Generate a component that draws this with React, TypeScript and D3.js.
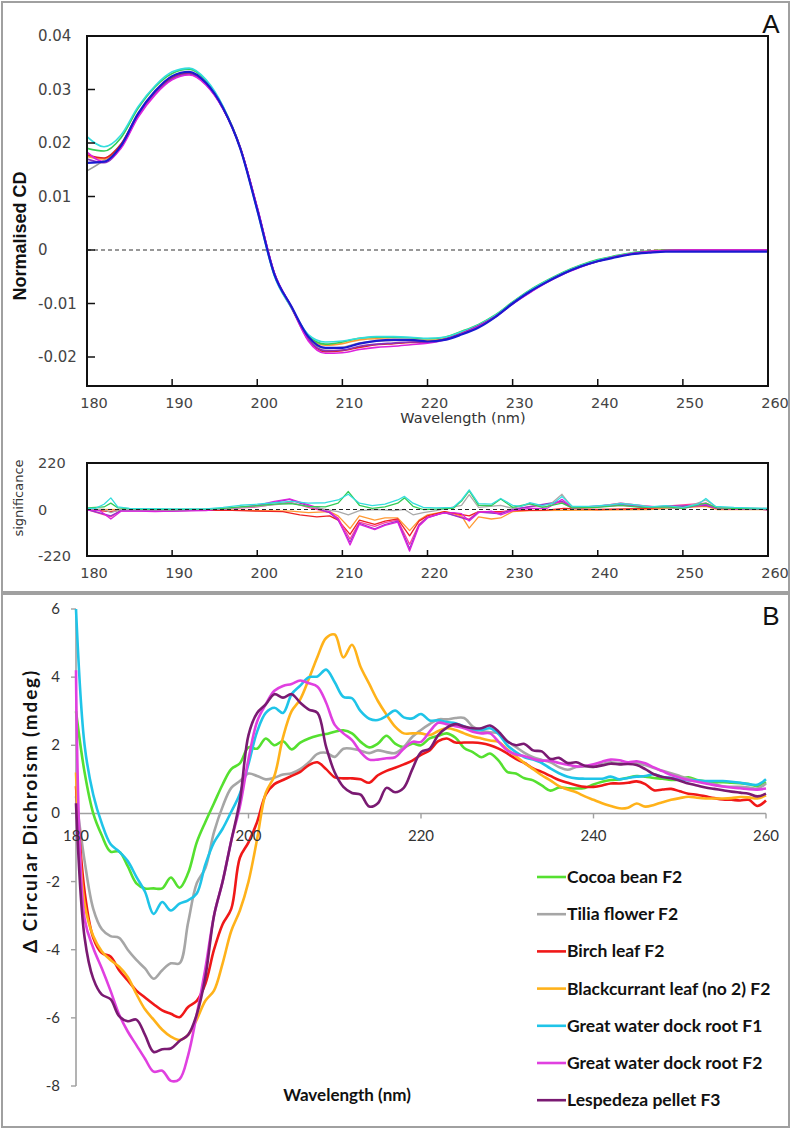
import React, { useRef, useEffect } from "react";
import * as d3 from "d3";

const W = 795;
const H = 1130;

// ---------- Panel A: normalised CD spectra (2 nm steps) ----------
const cdWavelengths = [180, 182, 184, 186, 188, 190, 192, 194, 196, 198, 200, 202, 204, 206, 208, 210, 212, 214, 216, 218, 220,
  222, 224, 226, 228, 230, 232, 234, 236, 238, 240, 242, 244, 246, 248, 250, 252, 254, 256, 258, 260];

const cdCyan = [0.0212, 0.0193, 0.0215, 0.0268, 0.0307, 0.0333, 0.034, 0.0318, 0.0268, 0.019, 0.0073, -0.0048, -0.0108, -0.0158, -0.0172, -0.017, -0.0165, -0.0162, -0.0162, -0.0163, -0.0165,
  -0.0163, -0.0153, -0.014, -0.0122, -0.0098, -0.0076, -0.0058, -0.0042, -0.0029, -0.0019, -0.0012, -0.0006, -0.0003, -0.0001, 0, 0, 0, 0, 0, 0];
const cdGreen = [0.019, 0.0185, 0.021, 0.0265, 0.0305, 0.033, 0.0338, 0.0316, 0.0267, 0.0192, 0.0076, -0.0046, -0.0107, -0.016, -0.0176, -0.0172, -0.0165, -0.0163, -0.0163, -0.0164, -0.0166,
  -0.0163, -0.0152, -0.0139, -0.0121, -0.0097, -0.0075, -0.0057, -0.0041, -0.0028, -0.0018, -0.0011, -0.0005, -0.0002, 0, 0, 0, 0, 0, 0, 0];
const cdGray = [0.0148, 0.0168, 0.0198, 0.0255, 0.0296, 0.0323, 0.0331, 0.031, 0.0264, 0.019, 0.0076, -0.0046, -0.0108, -0.0166, -0.0184, -0.0182, -0.0174, -0.017, -0.0169, -0.0169, -0.0171,
  -0.0167, -0.0157, -0.0143, -0.0124, -0.0099, -0.0077, -0.0059, -0.0043, -0.003, -0.002, -0.0013, -0.0007, -0.0003, -0.0001, 0, 0, 0, 0, 0, 0];
const cdOrange = [0.0175, 0.017, 0.0195, 0.0252, 0.0294, 0.0322, 0.033, 0.031, 0.0265, 0.0192, 0.0078, -0.0044, -0.0107, -0.0163, -0.0178, -0.0175, -0.0168, -0.0166, -0.0167, -0.0168, -0.0169,
  -0.0166, -0.0155, -0.0141, -0.0123, -0.0099, -0.0077, -0.0059, -0.0043, -0.003, -0.002, -0.0012, -0.0006, -0.0002, 0, 0, 0, 0, 0, 0, 0];
const cdRed = [0.0178, 0.0172, 0.0198, 0.0254, 0.0295, 0.0322, 0.033, 0.031, 0.0264, 0.0191, 0.0078, -0.0043, -0.0106, -0.0168, -0.019, -0.0188, -0.0182, -0.0177, -0.0175, -0.0173, -0.0172,
  -0.0167, -0.0156, -0.0142, -0.0124, -0.01, -0.0079, -0.006, -0.0044, -0.0031, -0.0021, -0.0013, -0.0007, -0.0003, -0.0001, 0, 0, 0, 0, 0, 0];
const cdPurple = [0.017, 0.0163, 0.0192, 0.025, 0.0292, 0.032, 0.0329, 0.0309, 0.0264, 0.0191, 0.0079, -0.0043, -0.0106, -0.0167, -0.0188, -0.0187, -0.018, -0.0176, -0.0174, -0.0172, -0.0172,
  -0.0167, -0.0156, -0.0142, -0.0124, -0.01, -0.0079, -0.006, -0.0044, -0.0031, -0.0021, -0.0013, -0.0007, -0.0003, -0.0001, 0, 0, 0, 0, 0, 0];
const cdMagenta = [0.0183, 0.0165, 0.019, 0.0248, 0.029, 0.0318, 0.0327, 0.0308, 0.0263, 0.0192, 0.008, -0.0042, -0.0106, -0.017, -0.0193, -0.0192, -0.0186, -0.0182, -0.018, -0.0177, -0.0174,
  -0.0168, -0.0157, -0.0143, -0.0125, -0.0101, -0.008, -0.0061, -0.0045, -0.0032, -0.0021, -0.0013, -0.0007, -0.0003, -0.0001, 0, 0, 0, 0, 0, 0];
const cdBlue = [0.0163, 0.0165, 0.0195, 0.0255, 0.0297, 0.0325, 0.0333, 0.0312, 0.0265, 0.019, 0.0075, -0.0045, -0.0105, -0.0162, -0.0183, -0.0183, -0.0175, -0.017, -0.0168, -0.0168, -0.0171,
  -0.0168, -0.0158, -0.0145, -0.0125, -0.01, -0.0078, -0.006, -0.0044, -0.0031, -0.0021, -0.0014, -0.0008, -0.0005, -0.0003, -0.0003, -0.0003, -0.0003, -0.0003, -0.0003, -0.0003];

const cdSeries = [
  { color: "#9a9a9a", values: cdGray },
  { color: "#ff9933", values: cdOrange },
  { color: "#33cc55", values: cdGreen },
  { color: "#33dddd", values: cdCyan },
  { color: "#e02222", values: cdRed },
  { color: "#8833bb", values: cdPurple },
  { color: "#dd22dd", values: cdMagenta },
  { color: "#1a1ad0", values: cdBlue },
];

const cdTicks = [0.04, 0.03, 0.02, 0.01, 0, -0.01, -0.02];
const cdTickLabels = ["0.04", "0.03", "0.02", "0.01", "0", "-0.01", "-0.02"];
const nmTicks = [180, 190, 200, 210, 220, 230, 240, 250, 260];

// ---------- Panel A lower: significance ([nm, value] pairs) ----------
const sigTicks = [220, 0, -220];
const sigOrange = [[180, 0], [190, -2], [197, -3], [200, -5], [204, -8], [206, -15], [208.5, -10], [209.5, -30], [210.9, -90], [212, -30], [213.8, -50], [215, -40], [216.5, -40], [217.9, -100], [219, -50], [220, -25], [222, -10], [224, -30], [224.9, -88], [226, -35], [227.5, -45], [228.6, -40], [230, -10], [232, -5], [240, -3], [246, 0], [252.7, 15], [254, 0], [260, 0]];
const sigRed = [[180, 0], [182.8, -10], [184, -3], [190, -5], [196, -3], [198, -5], [200, -8], [203, -10], [205, -25], [207, -35], [208.5, -30], [209.5, -50], [210.9, -118], [212, -50], [213.8, -70], [215, -55], [216.5, -45], [217.9, -125], [219, -55], [220, -30], [222, -10], [224.9, -30], [226, -10], [228.6, -10], [230, -5], [234, -3], [236, 5], [240, 0], [246, 5], [248, 10], [252.7, 20], [254, 5], [260, 0]];
const sigPink = [[180, 0], [182.8, -35], [184, -5], [190, -5], [196, 3], [200, 12], [203.8, 35], [206, 10], [208.5, -15], [209.5, -40], [210.9, -140], [212, -60], [213.8, -80], [215, -62], [216.5, -50], [217.9, -165], [219, -70], [220, -35], [222, -15], [224.9, -45], [226, -10], [228.6, -15], [230, 0], [235.8, 35], [237, 5], [242.7, 20], [246, 10], [252.7, 30], [254, 5], [260, 0]];
const sigPurple = [[180, 0], [182.8, -30], [184, -5], [190, -8], [196, 2], [200, 18], [203.8, 48], [205, 30], [207, 5], [208.5, -15], [209.5, -50], [210.9, -155], [212, -65], [213.8, -92], [215, -72], [216.5, -55], [217.9, -185], [219, -75], [220, -38], [222, -15], [224.9, -50], [226, -12], [228.6, -20], [230, 0], [235.8, 40], [237, 8], [242.7, 25], [246, 12], [252.7, 20], [254, 5], [260, 0]];
const sigMagenta = [[180, 0], [181.5, -5], [182.8, -45], [184, -8], [186, -8], [188, -10], [190, -8], [194, -5], [196, 5], [198, 10], [200, 20], [202, 38], [203.8, 50], [205, 35], [207, 10], [208.5, -10], [209.5, -45], [210.9, -168], [212, -70], [213.8, -95], [215, -75], [216.5, -60], [217.9, -197], [219, -80], [220, -40], [221.5, -20], [223, -15], [224, -20], [224.9, -55], [226, -15], [227.5, -8], [228.6, -25], [230, -5], [232, 5], [234, 5], [235.8, 48], [237, 10], [240, 15], [242.7, 30], [245, 20], [247, 12], [250, 5], [252.7, 25], [254, 5], [260, 0]];
const sigGray = [[180, 3], [182, 0], [182.8, -15], [184, 0], [190, -2], [196, 3], [200, 15], [204, 30], [206, 15], [208, 0], [209.5, -10], [210.7, -25], [212, -5], [214, 0], [216, -5], [217.3, 0], [218.3, -25], [219.5, -15], [221, -5], [224, 20], [224.9, 70], [226, 10], [228.6, 20], [230, 5], [232, 25], [234, 10], [235.8, 72], [237, 10], [240, 15], [242.7, 30], [245, 20], [247, 10], [250, 5], [252.7, 45], [254, 10], [260, 5]];
const sigGreen = [[180, 8], [182, 12], [182.8, 30], [183.6, 8], [186, 2], [190, 0], [194, 2], [196, 5], [198, 12], [200, 18], [202, 25], [204, 28], [206, 15], [208, 12], [209.5, 30], [210.7, 85], [212, 20], [213.5, 5], [215, 12], [216.5, 30], [217.3, 55], [218.3, 15], [219.5, 0], [221, 2], [223, 5], [224, 40], [224.9, 88], [226, 20], [227.5, 18], [228.6, 50], [230, 10], [232, 28], [233.5, 10], [235.8, 30], [237, 8], [240, 10], [242.7, 20], [245, 10], [248, 12], [250, 5], [252.7, 30], [254, 8], [256, 5], [260, 2]];
const sigCyan = [[180, 5], [181, 5], [182, 25], [182.8, 55], [183.6, 12], [185, 5], [190, 3], [194, 3], [196, 10], [198, 20], [200, 25], [202, 32], [204, 38], [206, 30], [208, 32], [209.5, 45], [210.7, 72], [212, 30], [213.5, 18], [215, 25], [216.5, 45], [217.3, 62], [218.3, 30], [219.5, 10], [221, 8], [223, 10], [224, 45], [224.9, 93], [226, 28], [227.5, 25], [228.6, 52], [230, 20], [231, 15], [232, 32], [233.5, 18], [234.8, 30], [235.8, 62], [237, 15], [239, 15], [241, 20], [242.7, 28], [244.5, 22], [246, 12], [248, 18], [250, 10], [251.8, 25], [252.7, 52], [253.8, 15], [256, 10], [260, 5]];

const sigSeries = [
  { color: "#ff9933", values: sigOrange },
  { color: "#ee2222", values: sigRed },
  { color: "#ff3fa0", values: sigPink },
  { color: "#9933cc", values: sigPurple },
  { color: "#dd22dd", values: sigMagenta },
  { color: "#aaaaaa", values: sigGray },
  { color: "#33cc55", values: sigGreen },
  { color: "#33dddd", values: sigCyan },
];

// ---------- Panel B: delta circular dichroism (1 nm steps, 180-260) ----------
const dcWavelengths = d3.range(180, 261);

const cocoaBean = [3.0, 1.2, 0.0, -0.65, -1.12, -1.12, -1.55, -2.05, -2.2, -2.2,
  -2.2, -1.88, -2.18, -1.75, -0.85, -0.25, 0.3, 0.85, 1.3, 1.47,
  1.94, 1.9, 2.2, 2.0, 2.12, 1.88, 2.08, 2.2, 2.28, 2.33,
  2.4, 2.44, 2.35, 2.1, 1.94, 2.05, 2.28, 2.05, 1.95, 2.05,
  2.0, 2.2, 2.28, 2.35, 2.22, 1.92, 1.8, 1.65, 1.76, 1.55,
  1.22, 1.17, 1.03, 0.97, 0.82, 0.67, 0.76, 0.74, 0.73, 0.75,
  0.85, 0.93, 0.98, 1.0, 1.05, 1.1, 1.08, 1.04, 1.02, 0.98,
  1.0, 1.06, 0.98, 0.94, 0.91, 0.92, 0.9, 0.89, 0.86, 0.8,
  0.92];
const tiliaFlower = [0.5, -1.4, -2.8, -3.4, -3.6, -3.65, -4.0, -4.3, -4.55, -4.85,
  -4.6, -4.4, -4.4, -3.2, -2.05, -1.6, -0.55, 0.2, 0.75, 0.95,
  1.17, 1.1, 1.0, 1.05, 1.14, 1.18, 1.3, 1.5, 1.75, 1.78,
  1.66, 1.9, 1.9, 1.84, 1.77, 1.85, 1.8, 1.77, 1.95, 2.25,
  2.45, 2.62, 2.76, 2.76, 2.8, 2.8, 2.55, 2.43, 2.38, 2.35,
  2.12, 1.95, 1.78, 1.65, 1.57, 1.5, 1.36, 1.28, 1.36, 1.38,
  1.36, 1.45, 1.5, 1.47, 1.49, 1.47, 1.42, 1.33, 1.25, 1.18,
  1.1, 1.02, 0.96, 0.9, 0.85, 0.8, 0.78, 0.78, 0.76, 0.73,
  0.88];
const birchLeaf = [0.8, -2.3, -3.65, -4.1, -4.2, -4.6, -4.9, -5.2, -5.4, -5.6,
  -5.78, -5.88, -5.98, -5.68, -5.5, -5.0, -4.0, -3.25, -2.8, -1.3,
  -0.85, -0.25, 0.55, 0.86, 0.98, 1.1, 1.22, 1.42, 1.5, 1.3,
  1.06, 1.03, 1.03, 1.0, 0.9, 1.12, 1.25, 1.34, 1.44, 1.55,
  1.72, 1.85, 2.12, 2.2, 2.08, 2.08, 2.08, 2.06, 2.0, 1.9,
  1.76, 1.6, 1.48, 1.32, 1.22, 1.1, 0.98, 0.9, 0.83, 0.78,
  0.78, 0.82, 0.88, 0.88, 0.9, 0.94, 0.86, 0.68, 0.7, 0.72,
  0.65, 0.58, 0.55, 0.5, 0.45, 0.41, 0.4, 0.38, 0.4, 0.22,
  0.38];
const blackcurrantLeaf = [1.2, -2.65, -3.6, -4.05, -4.3, -4.5, -4.8, -5.3, -5.75, -6.05,
  -6.35, -6.55, -6.65, -6.5, -6.05, -5.5, -5.2, -4.4, -3.45, -2.85,
  -2.0, -0.75, 0.6, 1.1, 2.23, 3.0, 3.35, 3.95, 4.6, 5.15,
  5.25, 4.58, 4.95, 4.3, 3.8, 3.3, 2.9, 2.55, 2.35, 2.35,
  2.35, 2.3, 2.42, 2.5, 2.45, 2.35, 2.26, 2.2, 2.14, 2.1,
  1.88, 1.68, 1.48, 1.3, 1.12, 0.97, 0.8, 0.7, 0.62, 0.5,
  0.4, 0.3, 0.22, 0.15, 0.17, 0.29, 0.2, 0.25, 0.33, 0.4,
  0.45, 0.49, 0.46, 0.44, 0.44, 0.44, 0.45, 0.48, 0.47, 0.44,
  0.53];
const dockRootF1 = [6.0, 2.0, 0.55, -0.3, -0.9, -1.12, -1.4, -1.86, -2.3, -2.95,
  -2.6, -2.85, -2.65, -2.55, -2.35, -1.5, -0.85, -0.45, 0.05, 0.58,
  1.45, 2.4, 2.95, 3.1, 2.95, 3.5, 3.75, 4.0, 4.02, 4.22,
  3.85, 3.42, 3.38, 3.0, 2.78, 2.74, 2.86, 3.02, 2.82, 2.79,
  2.92, 2.73, 2.73, 2.68, 2.65, 2.55, 2.44, 2.45, 2.5, 2.33,
  2.0, 1.8, 1.65, 1.58, 1.48, 1.32, 1.18, 1.08, 1.03, 1.02,
  1.02, 1.02, 1.08, 1.0, 1.04, 1.08, 1.1, 1.15, 1.07, 1.04,
  1.0, 0.97, 0.97, 0.95, 0.95, 0.95, 0.93, 0.9, 0.86, 0.84,
  1.0];
const dockRootF2 = [4.2, -3.1, -3.95, -4.55, -5.2, -5.9, -6.4, -6.8, -7.2, -7.58,
  -7.55, -7.85, -7.8, -7.1, -5.9, -4.55, -3.0, -2.0, -0.8, 0.2,
  1.6, 2.7, 3.2, 3.6, 3.74, 3.8, 3.9, 3.82, 3.72, 3.25,
  2.6, 2.35, 2.15, 1.8, 1.58, 1.58, 1.62, 1.65, 1.9, 2.1,
  2.1, 2.4, 2.66, 2.62, 2.56, 2.5, 2.4, 2.35, 2.35, 2.1,
  1.85, 1.73, 1.68, 1.6, 1.55, 1.55, 1.48, 1.43, 1.38, 1.39,
  1.44, 1.52, 1.58, 1.56, 1.5, 1.53, 1.47, 1.35, 1.24, 1.13,
  1.05, 0.98, 0.93, 0.88, 0.83, 0.79, 0.76, 0.74, 0.71, 0.7,
  0.73];
const lespedezaPellet = [0.3, -3.65, -4.85, -5.32, -5.45, -5.95, -6.1, -6.05, -6.5, -7.0,
  -6.92, -6.9, -6.68, -6.5, -5.9, -4.8, -3.0, -2.0, -0.8, 0.38,
  2.3, 2.95, 3.2, 3.5, 3.4, 3.5, 3.25, 3.05, 2.95, 1.95,
  1.2, 0.78, 0.6, 0.55, 0.2, 0.3, 0.75, 0.62, 0.75, 1.3,
  1.8, 1.9, 2.3, 2.52, 2.62, 2.55, 2.5, 2.5, 2.58, 2.4,
  2.12, 2.0, 2.04, 1.85, 1.82, 1.6, 1.63, 1.48, 1.5, 1.4,
  1.37, 1.41, 1.46, 1.44, 1.45, 1.42, 1.3, 1.15, 1.07, 1.03,
  0.96, 0.88, 0.82, 0.76, 0.72, 0.68, 0.64, 0.61, 0.58, 0.5,
  0.58];

const dcLabels = ["Cocoa bean F2", "Tilia flower F2", "Birch leaf F2", "Blackcurrant leaf (no 2) F2",
  "Great water dock root F1", "Great water dock root F2", "Lespedeza pellet F3"];
const dcColors = ["#55e030", "#a6a6a6", "#f01818", "#ffb21a", "#1fc4e8", "#e040e0", "#7a1a72"];
const dcValues = [cocoaBean, tiliaFlower, birchLeaf, blackcurrantLeaf, dockRootF1, dockRootF2, lespedezaPellet];

const dcTicks = [6, 4, 2, 0, -2, -4, -6, -8];
const dcNmTicks = [180, 200, 220, 240, 260];

const App = () => {
  const svgRef = useRef<SVGSVGElement | null>(null);

  useEffect(() => {
    document.body.style.margin = "0";
    const svg = d3.select(svgRef.current);
    svg.selectAll("*").remove();

    svg.append("rect").attr("width", W).attr("height", H).attr("fill", "#fff");

    // panel frames
    svg.append("rect").attr("x", 2).attr("y", 2).attr("width", 787).attr("height", 590)
      .attr("fill", "none").attr("stroke", "#a0a0a0").attr("stroke-width", 2);
    svg.append("rect").attr("x", 2).attr("y", 594).attr("width", 787).attr("height", 533)
      .attr("fill", "none").attr("stroke", "#a0a0a0").attr("stroke-width", 2);

    const fontA = "'DejaVu Sans', Verdana, sans-serif";
    const fontB = "Lato, 'Open Sans', sans-serif";

    // ===== Panel A top =====
    const xA = d3.scaleLinear().domain([180, 260]).range([87, 768]);
    const yA = d3.scaleLinear().domain([-0.02542, 0.04]).range([386, 36]);

    svg.append("clipPath").attr("id", "clipA")
      .append("rect").attr("x", 87).attr("y", 36).attr("width", 681).attr("height", 350);

    svg.append("line").attr("x1", 87).attr("x2", 768).attr("y1", yA(0)).attr("y2", yA(0))
      .attr("stroke", "#333").attr("stroke-width", 1.2).attr("stroke-dasharray", "4,3");

    const lineA = d3.line<number>()
      .x((_, i) => xA(cdWavelengths[i]))
      .y(d => yA(d))
      .curve(d3.curveMonotoneX);

    const gA = svg.append("g").attr("clip-path", "url(#clipA)");
    cdSeries.forEach((s, k) => {
      gA.append("path").attr("d", lineA(s.values)).attr("fill", "none")
        .attr("stroke", s.color).attr("stroke-width", k === cdSeries.length - 1 ? 2.2 : 1.6);
    });

    svg.append("rect").attr("x", 87).attr("y", 36).attr("width", 681).attr("height", 350)
      .attr("fill", "none").attr("stroke", "#111").attr("stroke-width", 2);

    cdTicks.forEach((v, i) => {
      svg.append("line").attr("x1", 87).attr("x2", 95).attr("y1", yA(v)).attr("y2", yA(v))
        .attr("stroke", "#111").attr("stroke-width", 1.5);
      svg.append("text").attr("x", 38).attr("y", yA(v) + 5).attr("font-family", fontA)
        .attr("font-size", 15).attr("fill", "#444").text(cdTickLabels[i]);
    });
    nmTicks.forEach(v => {
      svg.append("line").attr("x1", xA(v)).attr("x2", xA(v)).attr("y1", 386).attr("y2", 379)
        .attr("stroke", "#111").attr("stroke-width", 1.5);
      svg.append("text").attr("x", xA(v) + 7).attr("y", 408).attr("text-anchor", "middle")
        .attr("font-family", fontA).attr("font-size", 14.5).attr("fill", "#444").text(v);
    });
    svg.append("text").attr("x", 463).attr("y", 423).attr("text-anchor", "middle")
      .attr("font-family", fontA).attr("font-size", 14.5).attr("fill", "#333").text("Wavelength (nm)");
    svg.append("text").attr("transform", "translate(26,236) rotate(-90)").attr("text-anchor", "middle")
      .attr("font-family", "'Liberation Sans', Arial, sans-serif").attr("font-weight", "bold")
      .attr("font-size", 18).attr("fill", "#111").text("Normalised CD");
    svg.append("text").attr("x", 771).attr("y", 33).attr("text-anchor", "middle")
      .attr("font-family", "'Liberation Sans', Arial, sans-serif").attr("font-size", 26).attr("fill", "#111").text("A");

    // ===== Panel A bottom: significance =====
    const yS = d3.scaleLinear().domain([-220, 220]).range([556, 463]);
    svg.append("clipPath").attr("id", "clipS")
      .append("rect").attr("x", 87).attr("y", 463).attr("width", 681).attr("height", 93);

    const lineS = d3.line<number[]>().x(d => xA(d[0])).y(d => yS(d[1]));
    const gS = svg.append("g").attr("clip-path", "url(#clipS)");
    sigSeries.forEach(s => {
      gS.append("path").attr("d", lineS(s.values)).attr("fill", "none")
        .attr("stroke", s.color).attr("stroke-width", 1.3).attr("stroke-linejoin", "round");
    });
    svg.append("line").attr("x1", 87).attr("x2", 768).attr("y1", yS(0)).attr("y2", yS(0))
      .attr("stroke", "#222").attr("stroke-width", 1.2).attr("stroke-dasharray", "4,3");

    svg.append("rect").attr("x", 87).attr("y", 463).attr("width", 681).attr("height", 93)
      .attr("fill", "none").attr("stroke", "#111").attr("stroke-width", 2);
    sigTicks.forEach(v => {
      svg.append("text").attr("x", 38).attr("y", yS(v) + 5).attr("font-family", fontA)
        .attr("font-size", 14.5).attr("fill", "#444").text(v);
    });
    nmTicks.forEach(v => {
      svg.append("line").attr("x1", xA(v)).attr("x2", xA(v)).attr("y1", 556).attr("y2", 550)
        .attr("stroke", "#111").attr("stroke-width", 1.5);
      svg.append("text").attr("x", xA(v) + 7).attr("y", 578).attr("text-anchor", "middle")
        .attr("font-family", fontA).attr("font-size", 14.5).attr("fill", "#444").text(v);
    });
    svg.append("text").attr("transform", "translate(23,498) rotate(-90)").attr("text-anchor", "middle")
      .attr("font-family", fontA).attr("font-size", 13).attr("fill", "#333").text("significance");

    // ===== Panel B =====
    const xB = d3.scaleLinear().domain([180, 260]).range([76, 766]);
    const yB = d3.scaleLinear().domain([-8, 6]).range([1086, 609]);

    svg.append("line").attr("x1", 76).attr("x2", 766).attr("y1", yB(0)).attr("y2", yB(0))
      .attr("stroke", "#a0a0a0").attr("stroke-width", 1.6);
    svg.append("line").attr("x1", 76).attr("x2", 76).attr("y1", yB(6)).attr("y2", yB(-8))
      .attr("stroke", "#a0a0a0").attr("stroke-width", 1.6);
    dcTicks.forEach(v => {
      svg.append("line").attr("x1", 71).attr("x2", 76).attr("y1", yB(v)).attr("y2", yB(v))
        .attr("stroke", "#a0a0a0").attr("stroke-width", 1.4);
      svg.append("text").attr("x", 60).attr("y", yB(v) + 5).attr("text-anchor", "end")
        .attr("font-family", fontB).attr("font-size", 15).attr("fill", "#333").text(v);
    });
    dcNmTicks.forEach(v => {
      svg.append("line").attr("x1", xB(v)).attr("x2", xB(v)).attr("y1", yB(0)).attr("y2", yB(0) + 5)
        .attr("stroke", "#a0a0a0").attr("stroke-width", 1.4);
    });

    const lineB = d3.line<number>()
      .x((_, i) => xB(dcWavelengths[i]))
      .y(d => yB(d))
      .curve(d3.curveCatmullRom.alpha(0.5));

    dcValues.forEach((vals, k) => {
      svg.append("path").attr("d", lineB(vals)).attr("fill", "none")
        .attr("stroke", dcColors[k]).attr("stroke-width", 2.6).attr("stroke-linejoin", "round");
    });

    dcNmTicks.forEach(v => {
      svg.append("text").attr("x", xB(v)).attr("y", 841).attr("text-anchor", "middle")
        .attr("font-family", fontB).attr("font-size", 15).attr("fill", "#333").text(v);
    });

    svg.append("text").attr("transform", "translate(37,811) rotate(-90)").attr("text-anchor", "middle")
      .attr("font-family", fontB).attr("font-weight", "bold").attr("font-size", 19)
      .attr("letter-spacing", 1.8).attr("fill", "#111")
      .text("Δ Circular Dichroism (mdeg)");
    svg.append("text").attr("x", 347).attr("y", 1101).attr("text-anchor", "middle")
      .attr("font-family", fontB).attr("font-weight", "bold").attr("font-size", 17).attr("fill", "#111")
      .text("Wavelength (nm)");
    svg.append("text").attr("x", 771).attr("y", 625).attr("text-anchor", "middle")
      .attr("font-family", "'Liberation Sans', Arial, sans-serif").attr("font-size", 26).attr("fill", "#111").text("B");

    // legend
    const legend = svg.append("g").attr("transform", "translate(537,877)");
    dcLabels.forEach((label, i) => {
      const row = legend.append("g").attr("transform", `translate(0,${i * 37.2})`);
      row.append("line").attr("x1", 0).attr("x2", 29).attr("y1", 0).attr("y2", 0)
        .attr("stroke", dcColors[i]).attr("stroke-width", 2.6);
      row.append("text").attr("x", 30).attr("y", 6).attr("font-family", fontB).attr("font-weight", "bold")
        .attr("font-size", 17.5).attr("fill", "#111").text(label);
    });
  }, []);

  return <svg ref={svgRef} width={W} height={H} style={{ display: "block" }} />;
};

export default App;
